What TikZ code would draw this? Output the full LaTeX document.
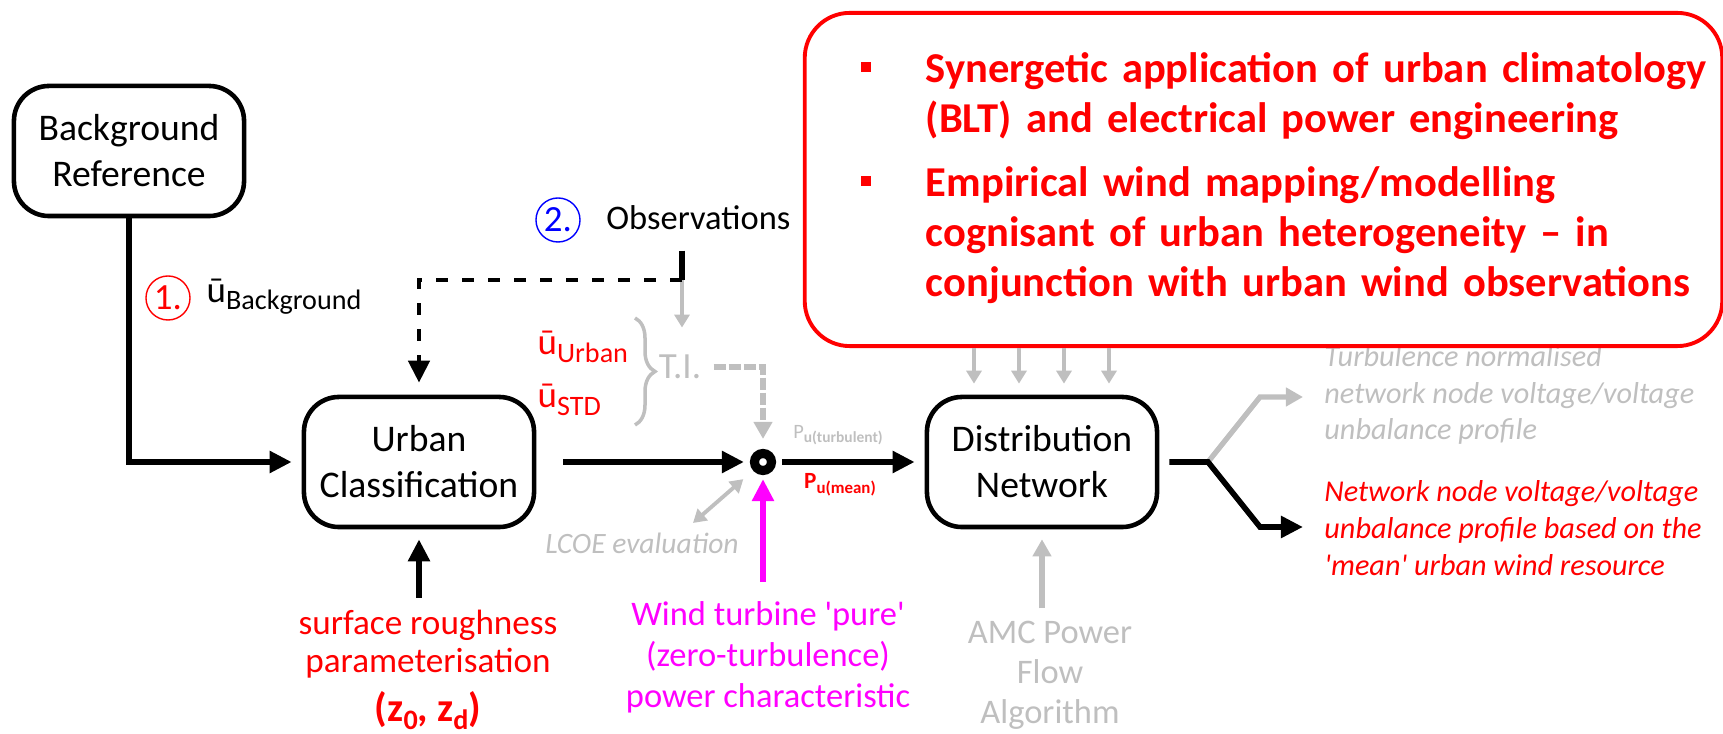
\documentclass[tikz,border=0pt]{standalone}
\usepackage{fontspec}
\setmainfont{Carlito}
\usetikzlibrary{arrows.meta,decorations.pathreplacing}
\definecolor{lightgrey}{RGB}{191,191,191}
\definecolor{windpink}{RGB}{255,0,255}
\definecolor{brightred}{RGB}{255,0,0}
\newcommand{\lowsub}[2][8]{\raisebox{-0.2em}{\fontsize{#1}{#1}\selectfont #2}}
\newcommand{\sqbullet}{\rule[0.25em]{0.1cm}{0.1cm}}

\begin{document}
\begin{tikzpicture}[x=0.01cm, y=-0.01cm]

\tikzstyle{box1}=[rectangle, rounded corners=0.35cm, draw, line width=1.3pt, minimum width=2.3cm, minimum height=1.3cm, align=center, font=\fontsize{10.7}{13.1}\selectfont]
\tikzstyle{numcirc}=[circle, draw, thin, minimum size=0.44cm, inner sep=0pt, font=\fontsize{10.5}{12}\selectfont]
\tikzstyle{hub}=[circle, draw, fill=white, line width=2.6pt, minimum size=0.17cm, inner sep=0pt]
\tikzstyle{arrow}=[-{Triangle[length=0.22cm,width=0.21cm]}, line width=1.6pt]
\tikzstyle{dasharrow}=[arrow, line width=1.3pt, dash pattern=on 0.12cm off 0.14cm]
\tikzstyle{magarrow}=[arrow, windpink]
\tikzstyle{greyarrow}=[-{Triangle[length=0.13cm,width=0.15cm]}, line width=1.1pt, lightgrey]
\tikzstyle{greybig}=[-{Triangle[length=0.17cm,width=0.18cm]}, line width=1.5pt, lightgrey]
\tikzstyle{greybiarrow}=[{Triangle[length=0.13cm,width=0.15cm]}-{Triangle[length=0.13cm,width=0.15cm]}, line width=1.1pt, lightgrey]
\tikzstyle{greydash}=[greybig, dash pattern=on 0.12cm off 0.03cm]
\tikzstyle{ulabel}=[anchor=west, inner sep=0pt, font=\fontsize{10.5}{12}\selectfont]
\tikzstyle{txt}=[align=center, font=\fontsize{9.8}{11.7}\selectfont]
\tikzstyle{outtxt}=[anchor=west, align=left, font=\itshape\fontsize{8.6}{10.5}\selectfont]
\tikzstyle{redbox}=[rectangle, rounded corners=0.45cm, draw=brightred, line width=1.1pt, fill=white, text=brightred, minimum height=3.33cm, inner xsep=0.56cm, text width=8.05cm, align=left, font=\bfseries\fontsize{12.1}{14.2}\selectfont]

\useasboundingbox (0,0) rectangle (1723,734);

\node (B) [box1] at (129,151) {Background\\Reference};
\node (U) [box1] at (419,462) {Urban\\Classification};
\node (D) [box1] at (1042,462) {Distribution\\Network};
\node (H) [hub] at (763,462) {};

\node (n1) [numcirc, brightred] at (168,298) {1.};
\node (ubg) [ulabel] at (206,297) {ū\lowsub{Background}};
\node (n2) [numcirc, blue] at (558,220) {2.};
\node (obs) [txt, anchor=west] at (594,218) {Observations};
\coordinate (obsturn) at (682,280);

\node (uurb) [ulabel, brightred] at (537,347) {ū\lowsub{Urban}};
\node (ustd) [ulabel, brightred] at (537,400) {ū\lowsub{STD}};
\draw[lightgrey, line width=1pt, decorate, decoration={brace, amplitude=0.2cm}] (635,318) -- (635,425);
\node (ti) [lightgrey, font=\fontsize{10.5}{12}\selectfont] at (680,367) {T.I.};

\node (pturb) [lightgrey, font=\fontsize{5.8}{7}\selectfont] at (838,435) {P\lowsub[4.4]{\bfseries u(turbulent)}};
\node (pmean) [brightred, font=\bfseries\fontsize{6.6}{8}\selectfont] at (840,485) {P\lowsub[4.8]{u(mean)}};
\node (lcoe) [lightgrey, font=\itshape\fontsize{8.4}{10}\selectfont] at (642,543) {LCOE evaluation};
\coordinate (lcoeend) at (693,523);

\node (wind) [txt, windpink] at (768,657) {Wind turbine \textquotesingle pure\textquotesingle\\(zero-turbulence)\\power characteristic};
\node (surf) [txt, brightred, font=\fontsize{10}{10.8}\selectfont] at (428,670) {surface roughness\\parameterisation\\[3pt]{\bfseries\fontsize{11.5}{12}\selectfont (z\lowsub[8]{0}, z\lowsub[8]{d})}};
\node (amc) [txt, lightgrey, font=\fontsize{9.8}{11.4}\selectfont] at (1050,675) {AMC Power\\Flow\\Algorithm};

\node (outt) [outtxt, lightgrey] at (1312,395) {Turbulence normalised\\network node voltage/voltage\\unbalance profile};
\node (outm) [outtxt, brightred] at (1312,528) {Network node voltage/voltage\\unbalance profile based on the\\\textquotesingle mean\textquotesingle{} urban wind resource};

\node (rb) [redbox] at (1263.5,179.5) {%
\begin{tabular}{@{}p{0.65cm}@{}l@{}}
\sqbullet & Synergetic application of urban climatology\\
 & (BLT) and electrical power engineering\\[4pt]
\sqbullet & Empirical wind mapping/modelling\\
 & cognisant of urban heterogeneity -- in\\
 & conjunction with urban wind observations
\end{tabular}};

\coordinate (split) at (1208,462);
\coordinate (bendup) at (1260,397);
\coordinate (benddown) at (1260,527);

\draw [arrow, shorten >=0.1cm] (B) |- (U);
\draw [greyarrow, shorten >=0.15cm] (obsturn) -- (obsturn |- ti.north);
\draw [line width=1.6pt, shorten <=0.08cm] (obs.south -| obsturn) -- (obsturn);
\draw [dasharrow, shorten >=0.12cm] (obsturn) -| (U);
\draw [greydash, shorten >=0.1cm] (ti) -| (H);
\draw [arrow, shorten <=0.27cm, shorten >=0.06cm] (U) -- (H);
\draw [arrow, shorten <=0.06cm, shorten >=0.1cm] (H) -- (D);
\draw [greybiarrow, shorten >=0.13cm] (lcoeend) -- (H);
\draw [magarrow, shorten <=0.07cm, shorten >=0.04cm] (wind.north -| H) -- (H);
\draw [arrow, shorten >=0.1cm] (surf.north -| U) -- (U);
\draw [greybig, shorten >=0.1cm] (amc.north -| D) -- (D);
\foreach \x in {974,1019,1064,1109}
  \draw [greyarrow, shorten >=0.11cm] (\x,0 |- rb.south) -- (\x,0 |- D.north);
\draw [greybig, shorten >=0.09cm] (split) -- (bendup) -- (bendup -| outt.west);
\draw [arrow, shorten <=0.1cm, shorten >=0.09cm] (D) -- (split) -- (benddown) -- (benddown -| outm.west);

\end{tikzpicture}
\end{document}
